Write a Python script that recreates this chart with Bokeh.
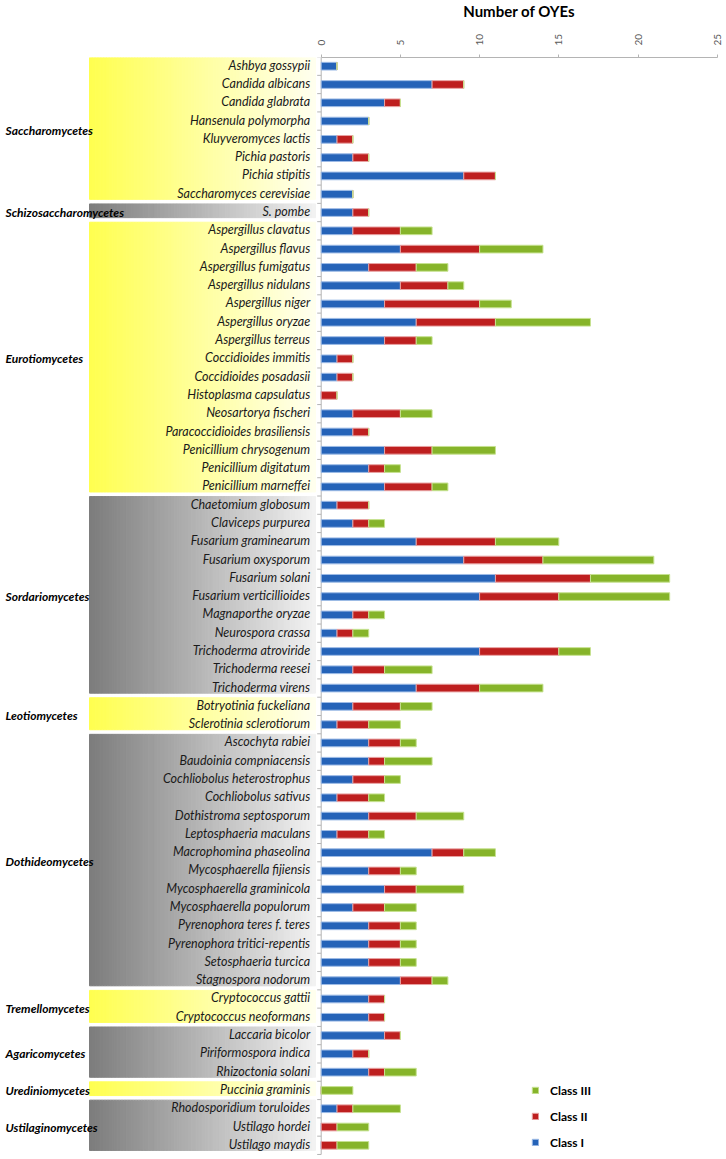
import numpy as np
from bokeh.plotting import figure
from bokeh.layouts import column
from bokeh.models import ColumnDataSource, Range1d, Legend, LegendItem, FixedTicker
from bokeh.core.properties import value
from bokeh.embed import file_html
from bokeh.resources import INLINE

# ---------------- data ----------------
groups = ["Saccharomycetes", "Schizosaccharomycetes", "Eurotiomycetes", "Sordariomycetes",
          "Leotiomycetes", "Dothideomycetes", "Tremellomycetes", "Agaricomycetes",
          "Urediniomycetes", "Ustilaginomycetes"]
group_sizes = [8, 1, 15, 11, 2, 14, 2, 3, 1, 3]
group_shade = ["yellow", "gray", "yellow", "gray", "yellow", "gray", "yellow", "gray", "yellow", "gray"]

species = [
    "Ashbya gossypii", "Candida albicans", "Candida glabrata", "Hansenula polymorpha",
    "Kluyveromyces lactis", "Pichia pastoris", "Pichia stipitis", "Saccharomyces cerevisiae",
    "S. pombe",
    "Aspergillus clavatus", "Aspergillus flavus", "Aspergillus fumigatus", "Aspergillus nidulans",
    "Aspergillus niger", "Aspergillus oryzae", "Aspergillus terreus", "Coccidioides immitis",
    "Coccidioides posadasii", "Histoplasma capsulatus", "Neosartorya fischeri",
    "Paracoccidioides brasiliensis", "Penicillium chrysogenum", "Penicillium digitatum",
    "Penicillium marneffei",
    "Chaetomium globosum", "Claviceps purpurea", "Fusarium graminearum", "Fusarium oxysporum",
    "Fusarium solani", "Fusarium verticillioides", "Magnaporthe oryzae", "Neurospora crassa",
    "Trichoderma atroviride", "Trichoderma reesei", "Trichoderma virens",
    "Botryotinia fuckeliana", "Sclerotinia sclerotiorum",
    "Ascochyta rabiei", "Baudoinia compniacensis", "Cochliobolus heterostrophus",
    "Cochliobolus sativus", "Dothistroma septosporum", "Leptosphaeria maculans",
    "Macrophomina phaseolina", "Mycosphaerella fijiensis", "Mycosphaerella graminicola",
    "Mycosphaerella populorum", "Pyrenophora teres f. teres", "Pyrenophora tritici-repentis",
    "Setosphaeria turcica", "Stagnospora nodorum",
    "Cryptococcus gattii", "Cryptococcus neoformans",
    "Laccaria bicolor", "Piriformospora indica", "Rhizoctonia solani",
    "Puccinia graminis",
    "Rhodosporidium toruloides", "Ustilago hordei", "Ustilago maydis",
]
class_i = [1, 7, 4, 3, 1, 2, 9, 2,
           2,
           2, 5, 3, 5, 4, 6, 4, 1, 1, 0, 2, 2, 4, 3, 4,
           1, 2, 6, 9, 11, 10, 2, 1, 10, 2, 6,
           2, 1,
           3, 3, 2, 1, 3, 1, 7, 3, 4, 2, 3, 3, 3, 5,
           3, 3,
           4, 2, 3,
           0,
           1, 0, 0]
class_ii = [0, 2, 1, 0, 1, 1, 2, 0,
            1,
            3, 5, 3, 3, 6, 5, 2, 1, 1, 1, 3, 1, 3, 1, 3,
            2, 1, 5, 5, 6, 5, 1, 1, 5, 2, 4,
            3, 2,
            2, 1, 2, 2, 3, 2, 2, 2, 2, 2, 2, 2, 2, 2,
            1, 1,
            1, 1, 1,
            0,
            1, 1, 1]
class_iii = [0, 0, 0, 0, 0, 0, 0, 0,
             0,
             2, 4, 2, 1, 2, 6, 1, 0, 0, 0, 2, 0, 4, 1, 1,
             0, 1, 4, 7, 5, 7, 1, 1, 2, 3, 4,
             2, 2,
             1, 3, 1, 1, 3, 1, 2, 1, 3, 2, 1, 1, 1, 1,
             0, 0,
             0, 0, 2,
             2,
             3, 2, 2]
class_names = ["Class I", "Class II", "Class III"]
x_ticks = [0, 5, 10, 15, 20, 25]
title_text = "Number of OYEs"

# ---------------- layout constants ----------------
W, H = 726, 1159
TITLE_H = 30
AXIS_H = 27
PX_UNIT = 396 / 25.0
X0_PX = 320.7
ROW_PX = 18.29
x_start = -X0_PX / PX_UNIT
x_end = (W - X0_PX) / PX_UNIT
y_top = -8.7 / ROW_PX
frame_h = H - TITLE_H - AXIS_H
y_bottom = y_top + frame_h / ROW_PX
n = len(species)
rows = np.arange(n)

# ---------------- title strip ----------------
pt = figure(width=W, height=TITLE_H, x_range=Range1d(x_start, x_end), y_range=Range1d(TITLE_H, 0),
            x_axis_location=None, y_axis_location=None, output_backend="svg",
            toolbar_location=None, min_border=0, outline_line_color=None)
pt.grid.visible = False
pt.text(x=[(x_ticks[0] + x_ticks[-1]) / 2], y=[10], text=[title_text], text_align="center",
        text_baseline="middle", text_font=value("Lato"), text_font_style="bold",
        text_font_size="15px", text_color="#000000")

# ---------------- main chart ----------------
p = figure(width=W, height=H - TITLE_H, x_range=Range1d(x_start, x_end),
           y_range=Range1d(y_bottom, y_top),
           x_axis_location="above", y_axis_location=None, output_backend="svg",
           toolbar_location=None, min_border_left=0, min_border_right=0, min_border_bottom=0,
           min_border_top=AXIS_H, outline_line_color=None)
p.grid.visible = False
p.background_fill_color = "white"

ax = p.xaxis[0]
ax.bounds = (0, 25)
ax.ticker = FixedTicker(ticks=x_ticks)
ax.major_label_orientation = "vertical"
ax.major_label_text_font = "Lato"
ax.major_label_text_font_size = "10px"
ax.major_label_text_color = "#595959"
ax.axis_line_color = "#b4b4b4"
ax.major_tick_line_color = "#b4b4b4"
ax.major_tick_out = 3
ax.major_tick_in = 0
ax.minor_tick_line_color = None
ax.major_label_standoff = 9

# ---------------- gradient bands ----------------
band_left = (89 - X0_PX) / PX_UNIT
band_right = (315 - X0_PX) / PX_UNIT
NSTRIP = 80
edges = np.linspace(band_left, band_right, NSTRIP + 1)
t = np.linspace(0, 1, NSTRIP)
yellow_cols = ["#%02x%02x%02x" % (255, 255, int(80 + (238 - 80) * v)) for v in t]
gray_cols = ["#%02x%02x%02x" % ((int(125 + (242 - 125) * v),) * 3) for v in t]
bl, br, bt, bb, bc = [], [], [], [], []
start = 0
group_centers = []
for g, size, shade in zip(groups, group_sizes, group_shade):
    top = start - 0.47
    bottom = start + size - 1 + 0.28
    cols = yellow_cols if shade == "yellow" else gray_cols
    for k in range(NSTRIP):
        bl.append(edges[k]); br.append(edges[k + 1]); bt.append(top); bb.append(bottom); bc.append(cols[k])
    group_centers.append(start + (size - 1) / 2.0)
    start += size
p.quad(left=bl, right=br, top=bt, bottom=bb, fill_color=bc, line_color=bc, line_width=1)

# ---------------- vertical axis line + category ticks ----------------
p.segment(x0=[0], x1=[0], y0=[y_top], y1=[n - 0.5], line_color="#b4b4b4", line_width=1)
bounds = np.arange(n + 1) - 0.5
tick_len = 4 / PX_UNIT
p.segment(x0=[-tick_len] * len(bounds), x1=[0] * len(bounds), y0=bounds, y1=bounds,
          line_color="#b4b4b4", line_width=1)

# ---------------- labels ----------------
p.text(x=[0] * n, y=rows, text=species, x_offset=-11, y_offset=-1, text_align="right",
       text_baseline="middle", text_font=value("Lato"), text_font_style="italic",
       text_font_size="12.5px", text_color="#1a1a1a")
p.text(x=[x_start] * len(groups), y=group_centers, text=groups, x_offset=5, text_align="left",
       text_baseline="middle", text_font=value("Lato"), text_font_style="bold italic",
       text_font_size="12px", text_color="#000000")

# ---------------- bars ----------------
src = ColumnDataSource(dict(row=rows, c1=class_i, c2=class_ii, c3=class_iii))
rs = p.hbar_stack(["c1", "c2", "c3"], y="row", height=0.42, source=src,
                  fill_color=["#2563b8", "#be1f1f", "#86b42a"],
                  line_color=["#9dbbe6", "#e8a2a2", "#c6e290"], line_width=1)

legend = Legend(items=[LegendItem(label=class_names[2], renderers=[rs[2]]),
                       LegendItem(label=class_names[1], renderers=[rs[1]]),
                       LegendItem(label=class_names[0], renderers=[rs[0]])],
                location=(531, 8), orientation="vertical", border_line_color=None,
                background_fill_alpha=0, padding=0, margin=0, spacing=8,
                glyph_width=8, glyph_height=8, label_height=18, label_standoff=11,
                label_text_font="Lato", label_text_font_style="bold",
                label_text_font_size="12px", label_text_color="#000000")
p.add_layout(legend)

layout = column(pt, p, spacing=0)
open("out.html", "w").write(file_html(layout, INLINE))
